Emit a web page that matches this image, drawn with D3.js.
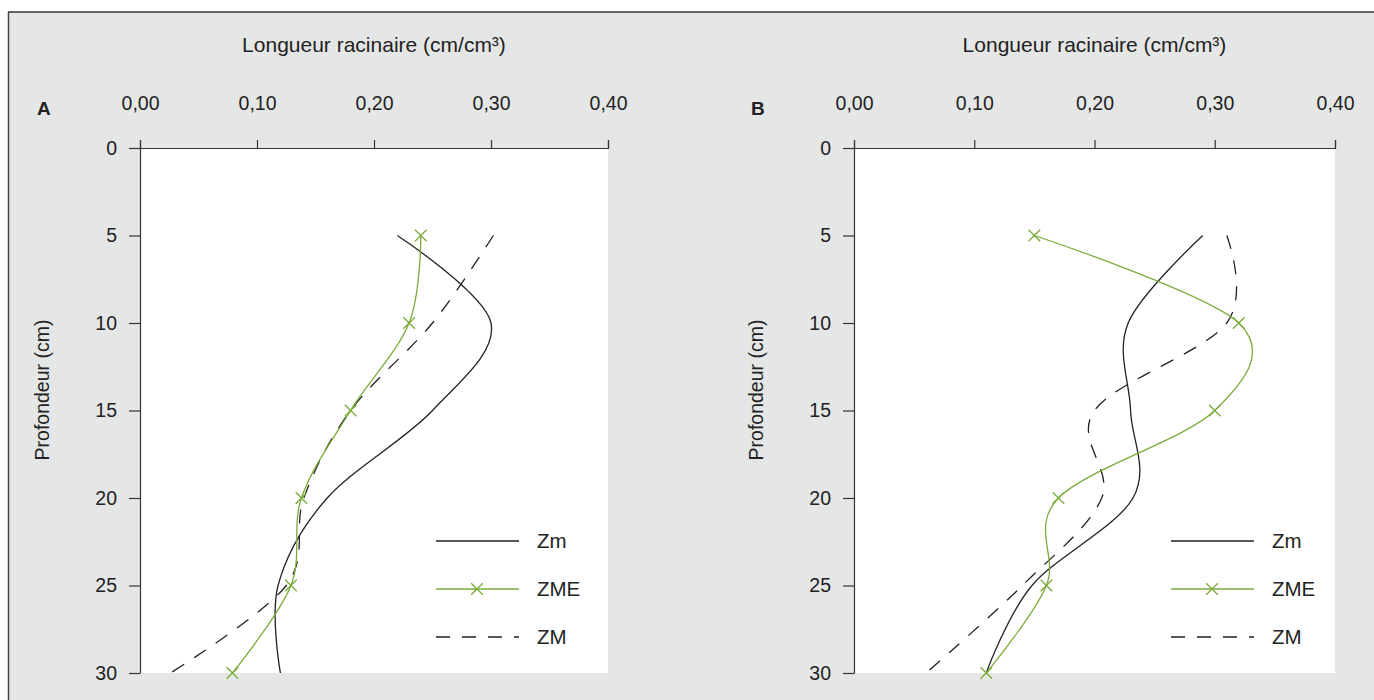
<!DOCTYPE html>
<html>
<head>
<meta charset="utf-8">
<script src="https://cdn.jsdelivr.net/npm/d3@7"></script>
<style>
  body { margin: 0; background: #fff; }
  text { font-family: "Liberation Sans", Arial, sans-serif; fill: #222; }
</style>
</head>
<body>
<div id="chart"></div>
<script>
// depths (cm) where the profiles were measured
const depths = [5, 10, 15, 20, 25, 30];
const xTicks = [0, 0.1, 0.2, 0.3, 0.4];
const yTicks = [0, 5, 10, 15, 20, 25, 30];
const seriesNames = ["Zm", "ZME", "ZM"];

// panel A
const zmA  = [0.22, 0.30, 0.25, 0.16, 0.118, 0.12];
const zmeA = [0.24, 0.23, 0.18, 0.138, 0.129, 0.079];
const zMA  = [0.302, 0.25, 0.18, 0.14, 0.125, 0.026];

// panel B
const zmB  = [0.29, 0.228, 0.23, 0.232, 0.148, 0.11];
const zmeB = [0.15, 0.32, 0.30, 0.17, 0.16, 0.11];
const zMB  = [0.31, 0.31, 0.2, 0.206, 0.14, 0.06];

const width = 1374;
const height = 700;
const green = "#7aab3a";
const ink = "#222";

const fr = d3.formatLocale({decimal: ",", thousands: " ", grouping: [3], currency: ["", ""]});
const fmt = fr.format(".2f");

const svg = d3.select("#chart").append("svg")
    .attr("width", width)
    .attr("height", height);

// page frame
svg.append("rect").attr("x", 0).attr("y", 0).attr("width", width).attr("height", height).attr("fill", "#fff");
svg.append("rect").attr("x", 8).attr("y", 12).attr("width", width - 8).attr("height", height - 12).attr("fill", "#e5e7e6");
svg.append("line").attr("x1", 8).attr("x2", width).attr("y1", 12).attr("y2", 12).attr("stroke", "#333").attr("stroke-width", 1.5);
svg.append("line").attr("x1", 8.5).attr("x2", 8.5).attr("y1", 12).attr("y2", height).attr("stroke", "#444").attr("stroke-width", 1.5);

function drawPanel(letter, left, right, zm, zme, zM, legendX, letterX) {
    const top = 148, bottom = 673;

    const x = d3.scaleLinear().domain([0, 0.4]).range([left, right]);
    const y = d3.scaleLinear().domain([0, 30]).range([top, bottom]);

    const g = svg.append("g");

    g.append("rect")
        .attr("x", left).attr("y", top)
        .attr("width", right - left).attr("height", bottom - top)
        .attr("fill", "#fff");

    // axes
    const xAxis = g.append("g")
        .attr("transform", `translate(0,${top})`)
        .call(d3.axisTop(x).tickValues(xTicks).tickFormat(fmt).tickSize(8).tickPadding(30));
    const yAxis = g.append("g")
        .attr("transform", `translate(${left},0)`)
        .call(d3.axisLeft(y).tickValues(yTicks).tickSize(11).tickSizeOuter(0).tickPadding(12));

    [xAxis, yAxis].forEach(a => {
        a.select(".domain").attr("stroke", "#333").attr("stroke-width", 1.2);
        a.selectAll(".tick line").attr("stroke", "#333").attr("stroke-width", 1.2);
        a.selectAll(".tick text").attr("font-size", 19.5).attr("fill", ink)
            .attr("font-family", "'Liberation Sans', Arial, sans-serif");
    });

    g.append("text")
        .attr("x", (left + right) / 2).attr("y", 52)
        .attr("text-anchor", "middle").attr("font-size", 21)
        .text("Longueur racinaire (cm/cm³)");

    g.append("text")
        .attr("x", letterX).attr("y", 115)
        .attr("font-size", 19).attr("font-weight", "bold")
        .text(letter);

    g.append("text")
        .attr("transform", `translate(${letterX + 12},390) rotate(-90)`)
        .attr("text-anchor", "middle").attr("font-size", 19.5)
        .text("Profondeur (cm)");

    const line = d3.line()
        .x(d => x(d[0]))
        .y(d => y(d[1]))
        .curve(d3.curveCardinal.tension(0));

    const pts = vals => vals.map((v, i) => [v, depths[i]]);

    g.append("path").datum(pts(zm))
        .attr("fill", "none").attr("stroke", ink).attr("stroke-width", 1.3)
        .attr("d", line);
    g.append("path").datum(pts(zM))
        .attr("fill", "none").attr("stroke", ink).attr("stroke-width", 1.3)
        .attr("stroke-dasharray", "14,12")
        .attr("d", line);
    g.append("path").datum(pts(zme))
        .attr("fill", "none").attr("stroke", green).attr("stroke-width", 1.3)
        .attr("d", line);

    const cross = d3.symbol().type(d3.symbolX).size(90);
    g.selectAll(".mark").data(pts(zme)).join("path")
        .attr("class", "mark")
        .attr("transform", d => `translate(${x(d[0])},${y(d[1])})`)
        .attr("d", cross)
        .attr("fill", "none").attr("stroke", green).attr("stroke-width", 1.3);

    // legend
    const leg = g.append("g").attr("transform", `translate(${legendX},0)`);
    const legY = [541, 589, 637];
    seriesNames.forEach((name, i) => {
        const l = leg.append("line")
            .attr("x1", 0).attr("x2", 83)
            .attr("y1", legY[i]).attr("y2", legY[i])
            .attr("stroke", i === 1 ? green : ink).attr("stroke-width", 1.3);
        if (i === 2) l.attr("stroke-dasharray", "14,12");
        if (i === 1) {
            leg.append("path")
                .attr("transform", `translate(41,${legY[i]})`)
                .attr("d", cross)
                .attr("fill", "none").attr("stroke", green).attr("stroke-width", 1.3);
        }
        leg.append("text")
            .attr("x", 101).attr("y", legY[i]).attr("dy", "0.35em")
            .attr("font-size", 20.5)
            .text(name);
    });
}

drawPanel("A", 140, 608, zmA, zmeA, zMA, 436, 37);
drawPanel("B", 854, 1335, zmB, zmeB, zMB, 1171, 751);
</script>
</body>
</html>
